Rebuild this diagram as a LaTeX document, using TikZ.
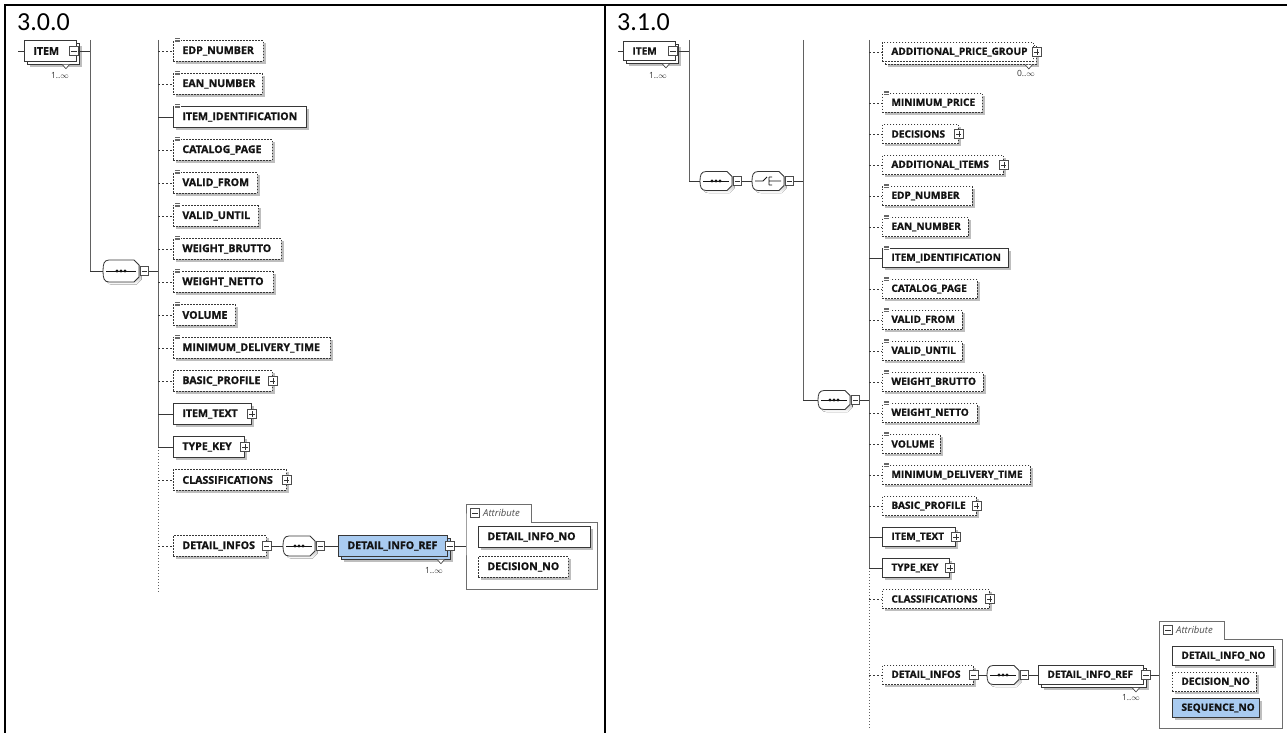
\documentclass[tikz,border=0pt]{standalone}
\usepackage{fontspec}
\setmainfont{Open Sans}[BoldFeatures={FakeBold=1.1}]
\newfontfamily\titlefont{Carlito}
\usetikzlibrary{shadows}

\definecolor{ink}{RGB}{20,20,20}
\definecolor{frame}{RGB}{55,55,55}
\definecolor{shade}{RGB}{190,190,190}
\definecolor{selblue}{RGB}{169,203,240}
\definecolor{grpline}{RGB}{110,110,110}

\newcommand\elpad{9}

\tikzset{
  elem/.style={draw=frame, fill=white, line width=0.9pt, inner sep=0pt,
    minimum height=20pt, anchor=west, text=ink},
  shd/.style={general shadow={fill=shade, shadow xshift=2.6pt, shadow yshift=-2.6pt}},
  opt/.style={line width=0.8pt, dash pattern=on 1.5pt off 1.5pt},
  sel/.style={fill=selblue},
  link/.style={draw=frame, line width=0.8pt},
  optlink/.style={link, dash pattern=on 2pt off 2pt},
  bar/.style={draw=black!62, line width=1pt},
  dotbar/.style={draw=black!62, line width=1pt, dash pattern=on 1pt off 2pt},
  pmbox/.style={draw=black!70, fill=white, line width=0.6pt, minimum size=8.5pt, inner sep=0pt},
  plusbox/.style={pmbox, path picture={
     \draw[black!80, line width=0.6pt]
       ([xshift=-2.6pt]path picture bounding box.center) -- ([xshift=2.6pt]path picture bounding box.center)
       ([yshift=-2.6pt]path picture bounding box.center) -- ([yshift=2.6pt]path picture bounding box.center);}},
  minusbox/.style={pmbox, path picture={
     \draw[black!80, line width=0.6pt]
       ([xshift=-2.6pt]path picture bounding box.center) -- ([xshift=2.6pt]path picture bounding box.center);}},
  occ/.style={font=\fontsize{8.5}{9}\selectfont, text=black!80, inner sep=0pt},
  vtitle/.style={font=\titlefont\fontsize{26}{28}\selectfont, inner sep=0pt, anchor=base west},
  grp/.style={draw=grpline, line width=0.8pt},
  simp/.style={draw=black!60, line width=0.5pt},
  grplabel/.style={font=\itshape\fontsize{9.5}{10}\selectfont, anchor=west, inner sep=0pt, text=black!70},
}

% element box: [style]{name}{x}{y}{width}{label}
\newcommand\El[6][]{%
  \node[elem,#1] (#2) at (#3,#4) {\makebox[#5pt][l]{\hspace*{\elpad pt}#6}};}
% repeated element: back copy, then front box
\newcommand\Stacked[6][]{%
  \node[elem,shd,#1] (#2-back) at (#3+3,#4+3) {\makebox[#5pt]{}};
  \El[#1]{#2}{#3}{#4}{#5}{#6}}
\newcommand\Notch[2]{%
  \draw[frame, fill=white, line width=0.6pt]
    ([shift={(-#2-3.5,0)}]#1-back.south east) -- ([shift={(-#2,4)}]#1-back.south east)
    -- ([shift={(-#2+3.5,0)}]#1-back.south east);}
\newcommand\PlusAt[2][0]{\node[plusbox] (#2-pm) at ([xshift=#1pt]#2.east) {};}
\newcommand\MinusAt[2][0]{\node[minusbox] (#2-pm) at ([xshift=#1pt]#2.east) {};}
% simple-content marker on the top left corner
\newcommand\Simple[1]{%
  \fill[white] ([shift={(1,-2.5)}]#1.north west) rectangle ([shift={(7.5,1.5)}]#1.north west);
  \draw[simp] ([shift={(2,-2)}]#1.north west) -- ++(5,0)
              ([shift={(2,-0.4)}]#1.north west) -- ++(5,0)
              ([shift={(2,1.2)}]#1.north west) -- ++(5,0);}
% connector from a bar to a child
\newcommand\Hang[3][link]{\draw[#1] (#2 |- #3.west) -- (#3.west);}

% compositor outline
\newcommand\compath[3]{%
 ([shift={(-\hw+6+#2,-\hh+#3)}]#1.center) -- ([shift={(\hw-5+#2,-\hh+#3)}]#1.center)
 -- ([shift={(\hw+#2,-\hh+5+#3)}]#1.center) -- ([shift={(\hw+#2,\hh-5+#3)}]#1.center)
 -- ([shift={(\hw-5+#2,\hh+#3)}]#1.center) -- ([shift={(-\hw+6+#2,\hh+#3)}]#1.center)
 .. controls ([shift={(-\hw+1+#2,\hh+#3)}]#1.center) and ([shift={(-\hw+#2,\hh-4+#3)}]#1.center) .. ([shift={(-\hw+#2,#3)}]#1.center)
 .. controls ([shift={(-\hw+#2,-\hh+4+#3)}]#1.center) and ([shift={(-\hw+1+#2,-\hh+#3)}]#1.center) .. ([shift={(-\hw+6+#2,-\hh+#3)}]#1.center) -- cycle}
\newcommand\compseq[1]{%
  \draw[ink, line width=0.9pt] ([shift={(-\hw+3,0)}]#1.center) -- ([shift={(\hw-3,0)}]#1.center);
  \foreach \d in {-4,0,4} \fill[ink] ([shift={(\d,0)}]#1.center) circle (1.6pt);}
\newcommand\compchoice[1]{%
  \draw[ink, line width=0.8pt]
     ([shift={(-\hw+3,0)}]#1.center) -- ([shift={(-5,0)}]#1.center) -- ([shift={(-1,-4)}]#1.center)
     ([shift={(1,-4)}]#1.center) -- ([shift={(1,4)}]#1.center)
     ([shift={(1,-4)}]#1.center) -- ([shift={(4,-4)}]#1.center)
     ([shift={(1,0)}]#1.center) -- ([shift={(\hw-3,0)}]#1.center)
     ([shift={(1,4)}]#1.center) -- ([shift={(4,4)}]#1.center);}
% compositor: {name}{x}{y}{seq|choice}{half width}{half height}
\newcommand\Comp[6]{%
  \def\hw{#5}\def\hh{#6}%
  \node[inner sep=0pt, minimum width=2*#5, minimum height=2*#6] (#1) at (#2,#3) {};
  \fill[shade] \compath{#1}{2.5}{2.5};
  \draw[frame, line width=0.8pt, fill=white] \compath{#1}{0}{0};
  \csname comp#4\endcsname{#1}%
  \node[minusbox] (#1-pm) at ([xshift=5pt]#1.east) {};}
% attribute group: {name}{left}{tab top}{box top}{right}{bottom}
\newcommand\AttrGroup[6]{%
  \draw[grp, fill=white] (#2,#4) -- (#2,#3) -- (#2+65,#3) -- (#2+65,#4) -- (#5,#4)
     -- (#5,#6) -- (#2,#6) -- cycle;
  \node[minusbox] (#1-pm) at (#2+9,#3+9) {};
  \node[grplabel] (#1-lbl) at (#2+17,#3+9) {Attribute};}

\begin{document}
\begin{tikzpicture}[x=1pt,y=-1pt]
\useasboundingbox (0,0) rectangle (1287,733);

% table rules
\draw[line width=1.6pt] (5,733) -- (5,5) -- (1287,5);
\draw[line width=1.6pt] (605,5) -- (605,733);

\node[vtitle] (t1) at (17,31) {3.0.0};
\node[vtitle] (t2) at (617,31) {3.1.0};

% ---------------- version 3.0.0 ----------------
\begin{scope}[elem/.append style={minimum height=20.5pt, font=\bfseries\fontsize{10.6}{12}\selectfont}]
\Stacked{itemL}{24}{51}{52}{ITEM}
\MinusAt[-3]{itemL}
\Notch{itemL}{14}
\node[occ] (itemL-occ) at (60,76) {1..$\infty$};
\coordinate (L-in) at (18,51);
\draw[link] (L-in) -- (itemL.west);

\coordinate (L-b1t) at (90,40);
\coordinate (L-b1b) at (90,271);
\draw[bar] (L-b1t) -- (L-b1b);
\draw[link] (itemL-pm.east) -- (L-b1t |- itemL-pm.east);

\Comp{seqL}{121}{271}{seq}{18}{11}
\draw[link] (L-b1b) -- (seqL.west);

\coordinate (L-b2t) at (158,40);
\coordinate (L-b2m) at (158,447);
\coordinate (L-b2b) at (158,592);
\draw[bar] (L-b2t) -- (L-b2m);
\draw[dotbar] (L-b2m) -- (L-b2b);
\draw[link] (seqL-pm.east) -- (L-b2t |- seqL-pm.east);

\El[opt,shd]{L1}{173}{51}{90}{EDP\_NUMBER}\Simple{L1}
\El[opt,shd]{L2}{173}{84}{89}{EAN\_NUMBER}\Simple{L2}
\El[shd]{L3}{173}{117}{133}{ITEM\_IDENTIFICATION}\Simple{L3}
\El[opt,shd]{L4}{173}{150}{99}{CATALOG\_PAGE}\Simple{L4}
\El[opt,shd]{L5}{173}{183}{84}{VALID\_FROM}\Simple{L5}
\El[opt,shd]{L6}{173}{216}{85}{VALID\_UNTIL}\Simple{L6}
\El[opt,shd]{L7}{173}{249}{108}{WEIGHT\_BRUTTO}\Simple{L7}
\El[opt,shd]{L8}{173}{282}{100}{WEIGHT\_NETTO}\Simple{L8}
\El[opt,shd]{L9}{173}{315}{62}{VOLUME}\Simple{L9}
\El[opt,shd]{L10}{173}{348}{157}{MINIMUM\_DELIVERY\_TIME}\Simple{L10}
\El[opt,shd]{L11}{173}{381}{99}{BASIC\_PROFILE}\PlusAt{L11}
\El[shd]{L12}{173}{414}{78}{ITEM\_TEXT}\PlusAt{L12}
\El[shd]{L13}{173}{447}{71}{TYPE\_KEY}\PlusAt{L13}
\El[opt,shd]{L14}{173}{480}{113}{CLASSIFICATIONS}\PlusAt{L14}
\El[opt,shd]{L15}{173}{546}{93}{DETAIL\_INFOS}\MinusAt{L15}

\foreach \n in {L1,L2,L4,L5,L6,L7,L8,L9,L10,L11,L14,L15} {\Hang[optlink]{L-b2t}{\n}}
\foreach \n in {L3,L12,L13} {\Hang{L-b2t}{\n}}

\Comp{dseqL}{299}{546}{seq}{16}{10}
\draw[link] (L15-pm.east) -- (dseqL.west);
\Stacked[sel]{drefL}{338}{546}{109}{DETAIL\_INFO\_REF}
\MinusAt[2]{drefL}
\Notch{drefL}{10}
\node[occ] (drefL-occ) at (434,571) {1..$\infty$};
\draw[link] (dseqL-pm.east) -- (drefL.west);

\AttrGroup{grpL}{466}{504}{522}{597}{589}
\coordinate (grpL-in) at (466,546);
\draw[link] (drefL-pm.east) -- (grpL-in);
\El[shd]{aL1}{478}{537}{112}{DETAIL\_INFO\_NO}
\El[opt,shd]{aL2}{478}{567}{90}{DECISION\_NO}
\end{scope}

% ---------------- version 3.1.0 ----------------
\begin{scope}[elem/.append style={minimum height=19pt, font=\bfseries\fontsize{10.1}{12}\selectfont}]
\Stacked{itemR}{623}{51}{52}{ITEM}
\MinusAt[-3]{itemR}
\Notch{itemR}{13}
\node[occ] (itemR-occ) at (658,76) {1..$\infty$};
\coordinate (R-in) at (618,51);
\draw[link] (R-in) -- (itemR.west);

\coordinate (R-b1t) at (689,40);
\coordinate (R-b1b) at (689,181);
\draw[bar] (R-b1t) -- (R-b1b);
\draw[link] (itemR-pm.east) -- (R-b1t |- itemR-pm.east);

\Comp{seqR1}{716}{181}{seq}{16}{9.5}
\draw[link] (R-b1b) -- (seqR1.west);
\Comp{chR}{768}{181}{choice}{16}{9.5}
\draw[link] (seqR1-pm.east) -- (chR.west);

\coordinate (R-b2t) at (803,40);
\coordinate (R-b2b) at (803,400);
\draw[bar] (R-b2t) -- (R-b2b);
\draw[link] (chR-pm.east) -- (R-b2t |- chR-pm.east);

\Comp{seqR2}{834}{400}{seq}{16}{9.5}
\draw[link] (R-b2b) -- (seqR2.west);

\coordinate (R-b3t) at (869,40);
\coordinate (R-b3m) at (869,568);
\coordinate (R-b3b) at (869,728);
\draw[bar] (R-b3t) -- (R-b3m);
\draw[dotbar] (R-b3m) -- (R-b3b);
\draw[link] (seqR2-pm.east) -- (R-b3t |- seqR2-pm.east);

\Stacked[opt]{R1}{882}{52}{151}{ADDITIONAL\_PRICE\_GROUP}
\PlusAt[3]{R1}
\Notch{R1}{8}
\node[occ] (R1-occ) at (1026,73) {0..$\infty$};
\El[opt,shd]{R2}{882}{103}{100}{MINIMUM\_PRICE}\Simple{R2}
\El[opt,shd]{R3}{882}{134}{76}{DECISIONS}\PlusAt{R3}
\El[opt,shd]{R4}{882}{165}{121}{ADDITIONAL\_ITEMS}\PlusAt{R4}
\El[opt,shd]{R5}{882}{196}{90}{EDP\_NUMBER}\Simple{R5}
\El[opt,shd]{R6}{882}{227}{86}{EAN\_NUMBER}\Simple{R6}
\El[shd]{R7}{882}{258}{126}{ITEM\_IDENTIFICATION}\Simple{R7}
\El[opt,shd]{R8}{882}{289}{95}{CATALOG\_PAGE}\Simple{R8}
\El[opt,shd]{R9}{882}{320}{80}{VALID\_FROM}\Simple{R9}
\El[opt,shd]{R10}{882}{351}{80}{VALID\_UNTIL}\Simple{R10}
\El[opt,shd]{R11}{882}{382}{101}{WEIGHT\_BRUTTO}\Simple{R11}
\El[opt,shd]{R12}{882}{413}{95}{WEIGHT\_NETTO}\Simple{R12}
\El[opt,shd]{R13}{882}{444}{58}{VOLUME}\Simple{R13}
\El[opt,shd]{R14}{882}{475}{148}{MINIMUM\_DELIVERY\_TIME}\Simple{R14}
\El[opt,shd]{R15}{882}{506}{94}{BASIC\_PROFILE}\PlusAt{R15}
\El[shd]{R16}{882}{537}{73}{ITEM\_TEXT}\PlusAt{R16}
\El[shd]{R17}{882}{568}{67}{TYPE\_KEY}\PlusAt{R17}
\El[opt,shd]{R18}{882}{599}{107}{CLASSIFICATIONS}\PlusAt{R18}
\El[opt,shd]{R19}{882}{675}{91}{DETAIL\_INFOS}\MinusAt{R19}

\foreach \n in {R1,R2,R3,R4,R5,R6,R8,R9,R10,R11,R12,R13,R14,R15,R18,R19} {\Hang[optlink]{R-b3t}{\n}}
\foreach \n in {R7,R16,R17} {\Hang{R-b3t}{\n}}

\Comp{dseqR}{1003}{675}{seq}{16}{9.5}
\draw[link] (R19-pm.east) -- (dseqR.west);
\Stacked{drefR}{1038}{675}{105}{DETAIL\_INFO\_REF}
\MinusAt[2]{drefR}
\Notch{drefR}{11}
\node[occ] (drefR-occ) at (1131,698) {1..$\infty$};
\draw[link] (dseqR-pm.east) -- (drefR.west);

\AttrGroup{grpR}{1159}{621}{639}{1282}{728}
\coordinate (grpR-in) at (1159,675);
\draw[link] (drefR-pm.east) -- (grpR-in);
\El[shd]{aR1}{1172}{656}{101}{DETAIL\_INFO\_NO}
\El[opt,shd]{aR2}{1172}{682}{84}{DECISION\_NO}
\El[sel,shd]{aR3}{1172}{708}{87}{SEQUENCE\_NO}
\end{scope}
\end{tikzpicture}
\end{document}
